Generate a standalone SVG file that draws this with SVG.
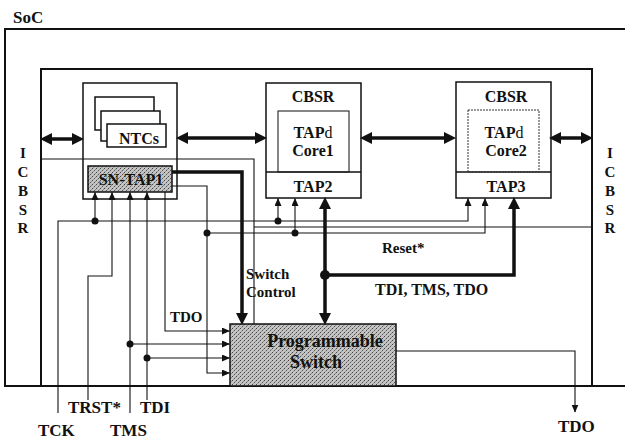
<svg xmlns="http://www.w3.org/2000/svg" width="625" height="439" viewBox="0 0 625 439">
<style>
.t{font-family:"Liberation Serif","Times New Roman",serif;font-weight:bold;fill:#111}
.box{fill:#fff;stroke:#111;stroke-width:1.5}
.thin{fill:none;stroke:#111;stroke-width:1.1}
.thick{fill:none;stroke:#111;stroke-width:3.5}
.frame{fill:none;stroke:#111;stroke-width:2}
.dot{fill:#111}
</style>
<defs>
<pattern id="stip" width="4" height="4" patternUnits="userSpaceOnUse">
<rect width="4" height="4" fill="#c4c4c4"/>
<rect x="0" y="0" width="1" height="1" fill="#444"/>
<rect x="2" y="2" width="1" height="1" fill="#555"/>
<rect x="3" y="1" width="1" height="1" fill="#888"/>
<rect x="1" y="3" width="1" height="1" fill="#999"/>
</pattern>
<marker id="a" markerUnits="userSpaceOnUse" markerWidth="8" markerHeight="8" refX="7.5" refY="3.5" orient="auto-start-reverse">
<path d="M0,0 L8,3.5 L0,7 z" fill="#111"/>
</marker>
<marker id="A" markerUnits="userSpaceOnUse" markerWidth="13" markerHeight="13" refX="5" refY="6" orient="auto-start-reverse">
<path d="M0,0 L12,6 L0,12 z" fill="#111"/>
</marker>
</defs>
<rect width="625" height="439" fill="#fff"/>

<g id="soc">
<path class="frame" d="M626,29 H5 V386 H626"/>
<text class="t" x="13" y="23" font-size="17">SoC</text>
</g>

<g id="icbsr">
<path class="frame" d="M41,386 V69 H592 V386"/>
<g class="t" font-size="15" text-anchor="middle">
<text x="23" y="158">I</text><text x="23" y="177">C</text><text x="23" y="196">B</text><text x="23" y="215">S</text><text x="23" y="233">R</text>
<text x="610" y="158">I</text><text x="610" y="177">C</text><text x="610" y="196">B</text><text x="610" y="215">S</text><text x="610" y="233">R</text>
</g>
</g>

<g id="ntc">
<rect class="box" x="83" y="83" width="94" height="116"/>
<rect class="box" x="95" y="97" width="59" height="33" stroke-width="1.2"/>
<rect class="box" x="101" y="111" width="59" height="30" stroke-width="1.2"/>
<rect class="box" x="107" y="124" width="59" height="23" stroke-width="1.2"/>
<text class="t" x="139" y="144" font-size="16" text-anchor="middle">NTCs</text>
</g>

<g id="sntap1">
<rect x="88" y="166" width="84" height="26" fill="url(#stip)" stroke="#111" stroke-width="1.5"/>
<text class="t" x="131" y="185" font-size="16" text-anchor="middle">SN-TAP1</text>
</g>

<g id="core1">
<rect class="box" x="266" y="83" width="95" height="115"/>
<line x1="266" y1="172" x2="361" y2="172" stroke="#111" stroke-width="1.5"/>
<rect x="278" y="111" width="71" height="61" fill="none" stroke="#222" stroke-width="1.1"/>
<g class="t" font-size="16" text-anchor="middle">
<text x="313" y="102">CBSR</text>
<text x="313" y="138">TAP<tspan font-weight="normal">d</tspan></text>
<text x="313" y="156">Core1</text>
<text x="313" y="192">TAP2</text>
</g>
</g>

<g id="core2">
<rect class="box" x="456" y="82" width="95" height="116"/>
<line x1="456" y1="172" x2="551" y2="172" stroke="#111" stroke-width="1.5"/>
<rect x="468" y="110" width="71" height="62" fill="none" stroke="#333" stroke-width="1" stroke-dasharray="2,1"/>
<g class="t" font-size="16" text-anchor="middle">
<text x="506" y="102">CBSR</text>
<text x="504" y="138">TAP<tspan font-weight="normal">d</tspan></text>
<text x="506" y="156">Core2</text>
<text x="506" y="192">TAP3</text>
</g>
</g>

<g id="switch">
<rect x="230" y="324" width="166" height="62" fill="url(#stip)" stroke="#111" stroke-width="1.5"/>
<g class="t" font-size="18" text-anchor="middle">
<text x="325" y="347">Programmable</text>
<text x="316" y="368">Switch</text>
</g>
</g>

<g id="connectors">
<path class="thin" d="M41,159 H254 V324"/>
<path class="thin" d="M254,227 H592"/>
<path class="thick" d="M47,139 H77" marker-start="url(#A)" marker-end="url(#A)"/>
<path class="thick" d="M183,138 H260" marker-start="url(#A)" marker-end="url(#A)"/>
<path class="thick" d="M367,138 H449" marker-start="url(#A)" marker-end="url(#A)"/>
<path class="thick" d="M556,138 H586" marker-start="url(#A)" marker-end="url(#A)"/>
<path class="thin" d="M58,413 V221 H468 V198.5" marker-end="url(#a)"/>
<path class="thin" d="M95,221 V192.5" marker-end="url(#a)"/>
<path class="thin" d="M278,221 V198.5" marker-end="url(#a)"/>
<circle class="dot" cx="95" cy="221" r="3.5"/>
<circle class="dot" cx="278" cy="221" r="3.5"/>
<path class="thin" d="M88,400 V276 H112 V192.5" marker-end="url(#a)"/>
<path class="thin" d="M130,413 V192.5" marker-end="url(#a)"/>
<path class="thin" d="M130,344 H229.5" marker-end="url(#a)"/>
<circle class="dot" cx="130" cy="344" r="3.5"/>
<path class="thin" d="M147,400 V192.5" marker-end="url(#a)"/>
<path class="thin" d="M147,358 H229.5" marker-end="url(#a)"/>
<circle class="dot" cx="147" cy="358" r="3.5"/>
<path class="thin" d="M165,192 V331 H229.5" marker-end="url(#a)"/>
<path class="thin" d="M172,186 H207 V373 H229.5" marker-end="url(#a)"/>
<path class="thin" d="M207,233 H485 V198.5" marker-end="url(#a)"/>
<path class="thin" d="M295,233 V198.5" marker-end="url(#a)"/>
<circle class="dot" cx="207" cy="233" r="3.5"/>
<circle class="dot" cx="295" cy="233" r="3.5"/>
<path class="thick" d="M172,172 H242 V318" marker-end="url(#A)"/>
<path class="thick" d="M325,204 V318" marker-start="url(#A)" marker-end="url(#A)"/>
<path class="thick" d="M325,275 H514 V204" marker-end="url(#A)"/>
<circle class="dot" cx="325" cy="275" r="5"/>
<path class="thin" d="M396,351 H575 V412" marker-end="url(#a)"/>
</g>

<g id="labels" class="t">
<text x="246" y="279" font-size="15">Switch</text>
<text x="246" y="297" font-size="15">Control</text>
<text x="170" y="322" font-size="15">TDO</text>
<text x="382" y="253" font-size="15">Reset*</text>
<text x="375" y="295" font-size="16">TDI, TMS, TDO</text>
<text x="68" y="413" font-size="17">TRST*</text>
<text x="140" y="413" font-size="17">TDI</text>
<text x="38" y="436" font-size="17">TCK</text>
<text x="110" y="436" font-size="17">TMS</text>
<text x="558" y="432" font-size="17">TDO</text>
</g>
</svg>
